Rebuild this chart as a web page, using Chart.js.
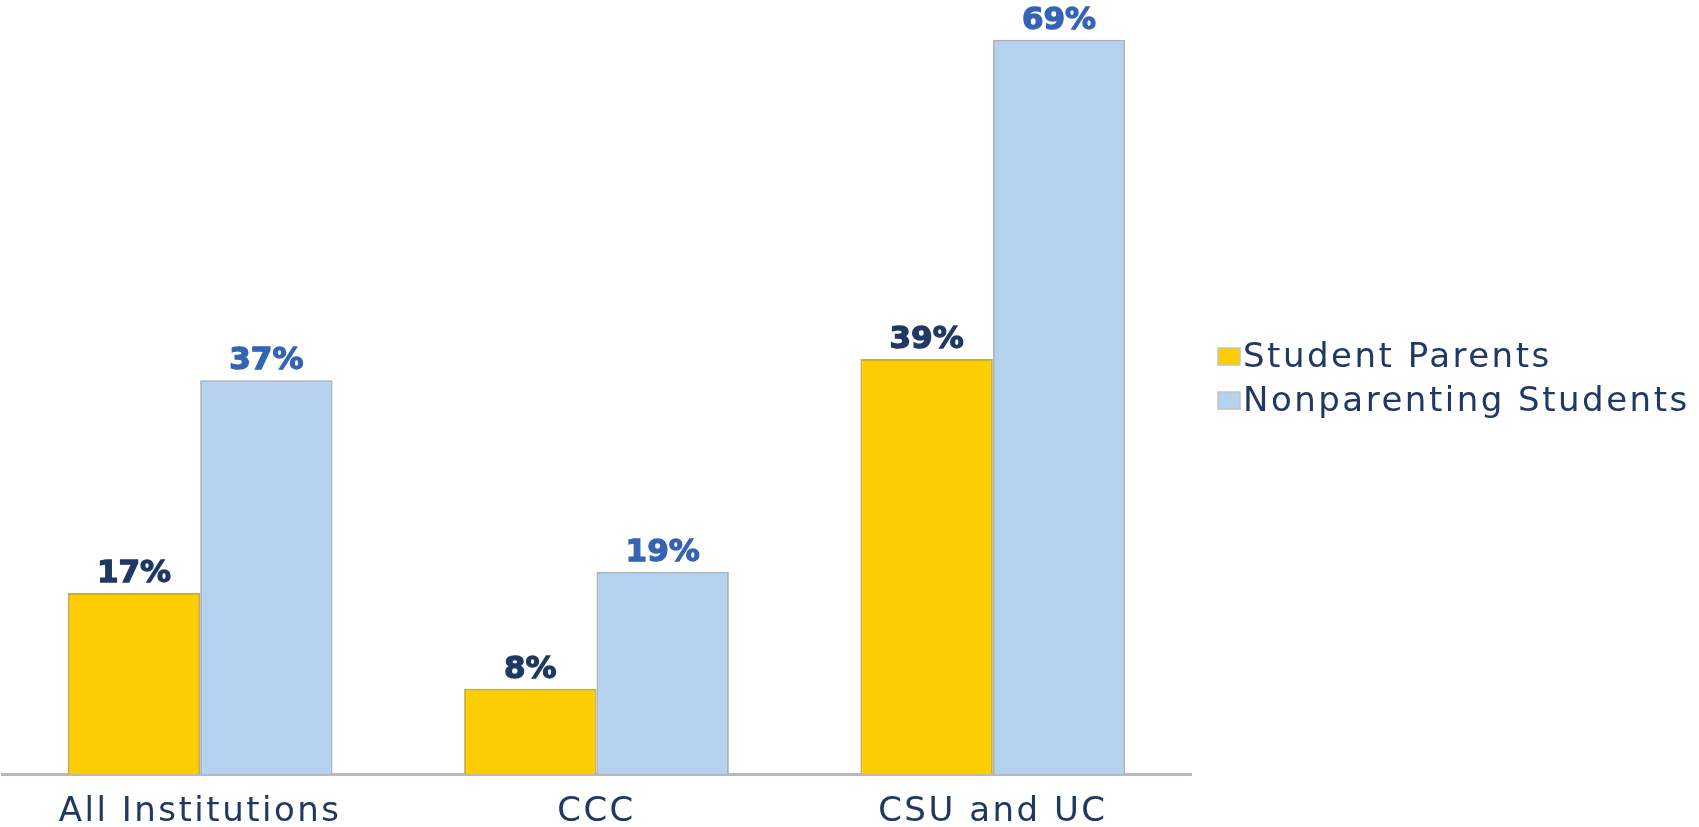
<!DOCTYPE html>
<html>
<head>
<meta charset="utf-8">
<script src="https://cdn.jsdelivr.net/npm/chart.js@4.4.0/dist/chart.umd.min.js"></script>
<style>
  html, body { margin: 0; padding: 0; background: #fff; }
  #wrap { width: 1699px; height: 827px; }
</style>
</head>
<body>
<div id="wrap"><canvas id="chart" width="1699" height="827"></canvas></div>
<script>
const categories = ['All Institutions', 'CCC', 'CSU and UC'];
const studentParents = [17, 8, 39];
const nonparentingStudents = [37, 19, 69];
const seriesNames = ['Student Parents', 'Nonparenting Students'];

const navy = '#1f3864';
const fontFamily = '"DejaVu Sans", sans-serif';

// wider text, closer to the original typeface
const spacing = {
    id: 'spacing',
    beforeDraw(chart) {
        chart.ctx.letterSpacing = '2.5px';
    }
};

// labels over each bar
const barValueLabels = {
    id: 'barValueLabels',
    afterDatasetsDraw(chart) {
        const ctx = chart.ctx;
        ctx.save();
        ctx.letterSpacing = '0px';
        ctx.font = 'bold 31px ' + fontFamily;
        ctx.textAlign = 'center';
        ctx.textBaseline = 'alphabetic';
        ctx.lineWidth = 1.3;
        chart.data.datasets.forEach((ds, i) => {
            const meta = chart.getDatasetMeta(i);
            ctx.fillStyle = ds.labelColor;
            ctx.strokeStyle = ds.labelColor;
            meta.data.forEach((bar, j) => {
                const txt = ds.data[j] + '%';
                ctx.fillText(txt, bar.x, bar.y - 11);
                ctx.strokeText(txt, bar.x, bar.y - 11);
            });
        });
        ctx.restore();
    }
};

// legend at the right side
const sideLegend = {
    id: 'sideLegend',
    afterDraw(chart) {
        const ctx = chart.ctx;
        ctx.save();
        ctx.letterSpacing = '2.5px';
        ctx.font = '34px ' + fontFamily;
        ctx.textBaseline = 'middle';
        chart.data.datasets.forEach((ds, i) => {
            const y = 357 + i * 44;
            ctx.fillStyle = ds.backgroundColor;
            ctx.fillRect(1218, y - 9, 22, 17);
            ctx.strokeStyle = '#c4c4c4';
            ctx.lineWidth = 1.5;
            ctx.strokeRect(1218, y - 9, 22, 17);
            ctx.fillStyle = navy;
            ctx.fillText(ds.label, 1243, y + 1);
        });
        ctx.restore();
    }
};

new Chart(document.getElementById('chart').getContext('2d'), {
    type: 'bar',
    data: {
        labels: categories,
        datasets: [{
            label: seriesNames[0],
            data: studentParents,
            backgroundColor: '#fccd00',
            borderColor: '#c9ae3a',
            borderWidth: 2,
            labelColor: navy
        }, {
            label: seriesNames[1],
            data: nonparentingStudents,
            backgroundColor: '#b4d2ee',
            borderColor: '#a7b3c3',
            borderWidth: 2,
            labelColor: '#3464b4'
        }]
    },
    options: {
        responsive: false,
        animation: false,
        categoryPercentage: 0.668,
        barPercentage: 1.0,
        layout: { padding: { left: 2, right: 508, top: 29, bottom: 0 } },
        plugins: {
            legend: { display: false },
            tooltip: { enabled: false }
        },
        scales: {
            y: { display: false, min: 0, max: 70 },
            x: {
                afterFit(scale) { scale.height = 53; },
                grid: { display: false, drawTicks: false },
                border: { display: true, color: '#b4b9c4', width: 3 },
                ticks: {
                    color: navy,
                    font: { family: fontFamily, size: 34 },
                    padding: 18
                }
            }
        }
    },
    plugins: [spacing, barValueLabels, sideLegend]
});
</script>
</body>
</html>
